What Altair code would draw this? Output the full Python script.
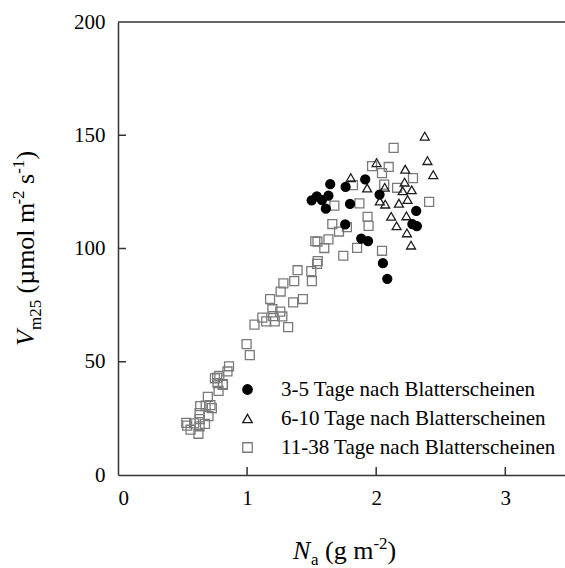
import altair as alt
import pandas as pd

FONT = "Liberation Serif"

GROUPS = [
    "3-5 Tage nach Blatterscheinen",
    "6-10 Tage nach Blatterscheinen",
    "11-38 Tage nach Blatterscheinen",
]

# leaf N per area (g m-2) and Vm25 (umol m-2 s-1) per leaf-age class
early_na = [1.50, 1.54, 1.58, 1.61, 1.63, 1.644, 1.763, 1.797, 1.760, 1.915,
            1.884, 1.937, 2.026, 2.052, 2.086, 2.310, 2.280, 2.315]
early_v = [121.3, 123.0, 121.4, 117.6, 123.3, 128.4, 127.2, 119.7, 110.6, 130.5,
           104.4, 103.3, 123.8, 93.5, 86.6, 116.6, 110.8, 109.9]

mid_na = [2.376, 2.397, 2.442, 2.003, 1.803, 1.930, 2.028, 2.066, 2.070, 2.116,
          2.158, 2.176, 2.225, 2.220, 2.205, 2.243, 2.275, 2.234, 2.238, 2.270]
mid_v = [149.6, 138.8, 132.6, 137.9, 131.3, 126.7, 121.0, 127.0, 119.6, 114.2,
         110.0, 120.0, 135.0, 129.3, 125.5, 121.6, 125.9, 114.4, 106.9, 101.5]

late_na = [2.135, 1.968, 2.097, 2.045, 2.062, 2.285, 2.162, 2.410, 1.820, 1.676,
           1.870, 1.933, 1.941, 1.660, 1.712, 1.773, 1.630, 1.598, 1.528, 1.545,
           1.852, 2.045, 1.745, 1.547, 1.542, 1.497, 1.502, 1.391, 1.365, 1.281,
           1.260, 1.432, 1.357, 1.178, 1.196, 1.257, 1.273, 1.202, 1.118, 1.148,
           1.214, 1.318, 1.057, 0.996, 1.021,
           0.860, 0.848, 0.785, 0.751, 0.771, 0.813, 0.779, 0.768, 0.812, 0.696,
           0.716, 0.727, 0.679, 0.637, 0.701, 0.632, 0.674, 0.632, 0.623, 0.562,
           0.529, 0.590, 0.632, 0.536]
late_v = [144.4, 136.4, 136.0, 133.3, 128.2, 131.1, 126.8, 120.6, 128.0, 118.9,
          119.9, 114.0, 110.0, 110.8, 107.5, 109.4, 104.0, 100.2, 103.2, 103.0,
          100.3, 99.0, 96.8, 94.4, 93.2, 90.0, 85.6, 90.4, 85.6, 84.6,
          81.0, 77.7, 76.2, 77.7, 73.2, 72.1, 70.0, 70.1, 69.5, 67.8,
          67.8, 65.3, 66.4, 57.8, 52.9,
          48.0, 45.7, 43.8, 42.7, 40.6, 40.1, 37.1, 43.0, 39.8, 34.5,
          30.8, 29.5, 30.6, 30.4, 26.0, 27.3, 22.6, 21.5, 18.2, 20.0,
          23.0, 22.8, 24.7, 21.8]

x_tick_values = [1, 2, 3]
y_tick_values = [50, 100, 150]

# older leaves drawn first so the filled circles stay on top
rows = []
for name, xs, ys in [(GROUPS[2], late_na, late_v),
                     (GROUPS[1], mid_na, mid_v),
                     (GROUPS[0], early_na, early_v)]:
    rows += [{"Na": a, "Vm25": b, "Gruppe": name} for a, b in zip(xs, ys)]
points_df = pd.DataFrame(rows)

W, H = 447, 453
LINE = "#333333"

x_scale = alt.Scale(domain=[0, 3.4625], nice=False)
y_scale = alt.Scale(domain=[0, 200], nice=False)
axis_style = dict(title=None, grid=False, ticks=False, tickSize=0, format="d",
                  labelFont=FONT, labelFontSize=21, labelColor="black",
                  domainColor=LINE, domainWidth=1.5)
x_axis = alt.Axis(values=[0, 1, 2, 3], labelPadding=12, **axis_style)
y_axis = alt.Axis(values=[0, 50, 100, 150, 200], labelPadding=13, **axis_style)

# legend kept inside the right edge of the canvas
legend = alt.Legend(
    title=None, orient="none", legendX=119, legendY=357, padding=0,
    labelFont=FONT, labelFontSize=21, labelColor="black", labelLimit=281,
    labelOffset=23, rowPadding=7, symbolSize=90, symbolStrokeWidth=1.3,
)

points = alt.Chart(points_df).mark_point(filled=False, size=80, strokeWidth=1.3, opacity=1).encode(
    x=alt.X("Na:Q", scale=x_scale, axis=x_axis),
    y=alt.Y("Vm25:Q", scale=y_scale, axis=y_axis),
    shape=alt.Shape("Gruppe:N", legend=legend,
                    scale=alt.Scale(domain=GROUPS, range=["circle", "triangle-up", "square"])),
    stroke=alt.Stroke("Gruppe:N", legend=legend,
                      scale=alt.Scale(domain=GROUPS, range=["#000000", "#1c1c1c", "#7a7a7a"])),
    fill=alt.Fill("Gruppe:N", legend=legend,
                  scale=alt.Scale(domain=GROUPS, range=["#000000", "transparent", "transparent"])),
)

# inward tick marks on both axes
x_ticks = alt.Chart(pd.DataFrame({"Na": x_tick_values})).mark_rule(color=LINE, strokeWidth=1.5).encode(
    x=alt.X("Na:Q", scale=x_scale, axis=x_axis),
    y=alt.value(H), y2=alt.value(H - 8),
)
y_ticks = alt.Chart(pd.DataFrame({"Vm25": y_tick_values})).mark_rule(color=LINE, strokeWidth=1.5).encode(
    y=alt.Y("Vm25:Q", scale=y_scale, axis=y_axis),
    x=alt.value(0), x2=alt.value(8),
)
# upper frame line at the top of the value range
top_line = alt.Chart(pd.DataFrame({"Vm25": [200]})).mark_rule(color=LINE, strokeWidth=1.5).encode(
    y=alt.Y("Vm25:Q", scale=y_scale, axis=y_axis),
)


def piece(text, x, y, size, italic=False, angle=0):
    props = dict(font=FONT, fontSize=size, align="left", color="black")
    if italic:
        props["fontStyle"] = "italic"
    if angle:
        props["angle"] = angle
    return alt.Chart(pd.DataFrame({"s": [text]})).mark_text(**props).encode(
        text="s:N", x=alt.value(x), y=alt.value(y))


BIG, SMALL = 26, 17
# middle-baseline offset so the pieces sit on a common text baseline
MID = 0.3

# x title: N_a (g m^-2)
XB = 537 - BIG * MID
x_title = [
    piece("N", 175, XB, BIG, italic=True),
    piece("a", 193, XB + 6 + (BIG - SMALL) * MID, SMALL),
    piece("(g m", 207, XB, BIG),
    piece("-2", 255.4, XB - 10 + (BIG - SMALL) * MID, SMALL),
    piece(")", 269.6, XB, BIG),
]

# y title, rotated: V_m25 (µmol m^-2 s^-1)
YB = -84 - BIG * MID
YSUB = -77 - SMALL * MID
YSUP = -94 - SMALL * MID
y_title = [
    piece("V", YB, 324, BIG, italic=True, angle=270),
    piece("m25", YSUB, 308, SMALL, angle=270),
    piece("(µmol m", YB, 271.5, BIG, angle=270),
    piece("-2", YSUP, 182.6, SMALL, angle=270),
    piece("s", YB, 161.9, BIG, angle=270),
    piece("-1", YSUP, 151.8, SMALL, angle=270),
    piece(")", YB, 137.6, BIG, angle=270),
]

chart = alt.layer(points, x_ticks, y_ticks, top_line, *x_title, *y_title).properties(
    width=W, height=H,
    padding={"left": 118, "top": 22, "right": 0, "bottom": 93},
    autosize=alt.AutoSizeParams(type="none"),
    view=alt.ViewBackground(stroke=None),
)

chart.save("out.html", embed_options={"renderer": "svg", "actions": False})
